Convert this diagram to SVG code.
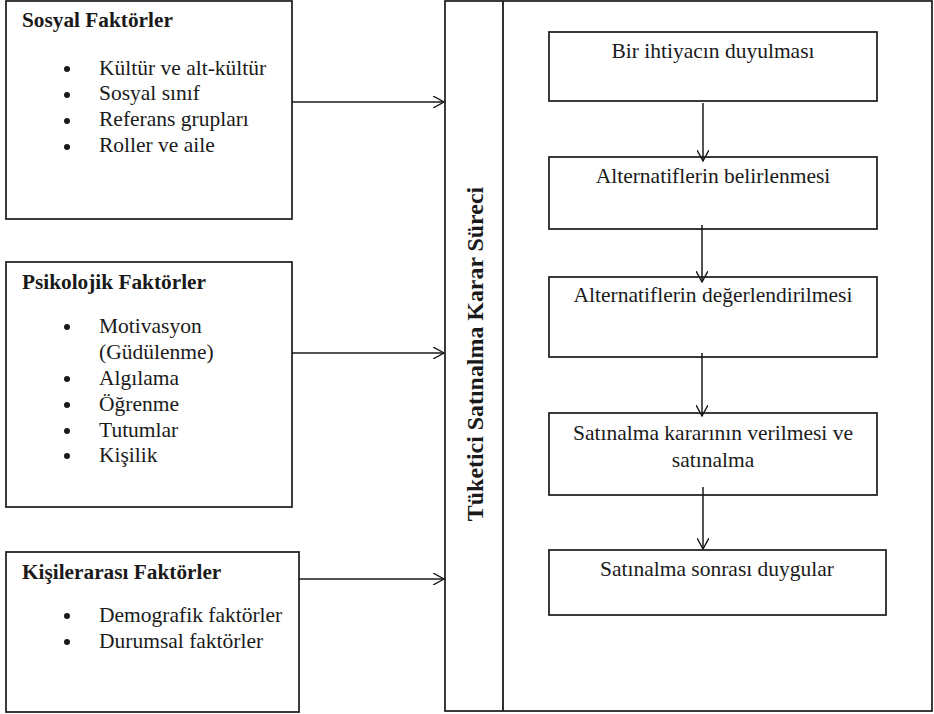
<svg xmlns="http://www.w3.org/2000/svg" width="934" height="714" viewBox="0 0 934 714" font-family="'Liberation Serif', serif">
<style>
.box{fill:#fff;stroke:#262626;stroke-width:1.8}
.t{font-family:'Liberation Serif',serif;font-size:21.5px;fill:#1a1a1a}
.b{font-weight:bold;font-size:21.3px}
.c{text-anchor:middle}
.ln{fill:none;stroke:#1a1a1a;stroke-width:1.5}
.dot{fill:#1a1a1a}
</style>
<defs>
<marker id="ah" viewBox="0 0 12 12" refX="11" refY="6" markerWidth="12" markerHeight="12" markerUnits="userSpaceOnUse" orient="auto">
<path d="M0,0 L11,6 L0,12" fill="none" stroke="#1a1a1a" stroke-width="1.4"/>
</marker>
</defs>
<rect width="934" height="714" fill="#fff"/>
<g id="sosyal">
<rect class="box" x="6" y="1" width="286" height="218"/>
<text class="t b" x="22" y="27">Sosyal Faktörler</text>
<circle class="dot" cx="67" cy="69" r="3"/>
<circle class="dot" cx="67" cy="95" r="3"/>
<circle class="dot" cx="67" cy="121" r="3"/>
<circle class="dot" cx="67" cy="147" r="3"/>
<text class="t" x="99" y="75">Kültür ve alt-kültür</text>
<text class="t" x="99" y="100">Sosyal sınıf</text>
<text class="t" x="99" y="126">Referans grupları</text>
<text class="t" x="99" y="152">Roller ve aile</text>
</g>
<g id="psikolojik">
<rect class="box" x="6" y="262" width="286" height="245"/>
<text class="t b" x="22" y="289">Psikolojik Faktörler</text>
<circle class="dot" cx="67" cy="327" r="3"/>
<circle class="dot" cx="67" cy="379" r="3"/>
<circle class="dot" cx="67" cy="405" r="3"/>
<circle class="dot" cx="67" cy="431" r="3"/>
<circle class="dot" cx="67" cy="456" r="3"/>
<text class="t" x="99" y="333">Motivasyon</text>
<text class="t" x="99" y="359">(Güdülenme)</text>
<text class="t" x="99" y="385">Algılama</text>
<text class="t" x="99" y="411">Öğrenme</text>
<text class="t" x="99" y="437">Tutumlar</text>
<text class="t" x="99" y="462">Kişilik</text>
</g>
<g id="kisilerarasi">
<rect class="box" x="6" y="552" width="293" height="160"/>
<text class="t b" x="22" y="579">Kişilerarası Faktörler</text>
<circle class="dot" cx="67" cy="616" r="3"/>
<circle class="dot" cx="67" cy="642" r="3"/>
<text class="t" x="99" y="622">Demografik faktörler</text>
<text class="t" x="99" y="648">Durumsal faktörler</text>
</g>
<g id="surec">
<rect class="box" x="445" y="1" width="487" height="710"/>
<line class="ln" x1="503" y1="1" x2="503" y2="711" style="stroke-width:1.8"/>
<text class="t b c" transform="translate(483,354) rotate(-90)" style="font-size:23.9px">Tüketici Satınalma Karar Süreci</text>
</g>
<g id="adim1">
<rect class="box" x="549" y="32" width="328" height="69"/>
<text class="t c" x="713" y="58">Bir ihtiyacın duyulması</text>
</g>
<g id="adim2">
<rect class="box" x="549" y="157" width="328" height="72"/>
<text class="t c" x="713" y="183">Alternatiflerin belirlenmesi</text>
</g>
<g id="adim3">
<rect class="box" x="549" y="277" width="328" height="80"/>
<text class="t c" x="713" y="302">Alternatiflerin değerlendirilmesi</text>
</g>
<g id="adim4">
<rect class="box" x="549" y="413" width="328" height="82"/>
<text class="t c" x="713" y="440">Satınalma kararının verilmesi ve</text>
<text class="t c" x="713" y="467">satınalma</text>
</g>
<g id="adim5">
<rect class="box" x="549" y="550" width="337" height="65"/>
<text class="t c" x="717" y="576">Satınalma sonrası duygular</text>
</g>
<g id="connectors">
<line class="ln" x1="292" y1="102" x2="444" y2="102" marker-end="url(#ah)"/>
<line class="ln" x1="292" y1="353" x2="444" y2="353" marker-end="url(#ah)"/>
<line class="ln" x1="299" y1="579" x2="444" y2="579" marker-end="url(#ah)"/>
<line class="ln" x1="703" y1="103" x2="703" y2="161" marker-end="url(#ah)"/>
<line class="ln" x1="702" y1="225" x2="702" y2="282" marker-end="url(#ah)"/>
<line class="ln" x1="702" y1="353" x2="702" y2="416" marker-end="url(#ah)"/>
<line class="ln" x1="703" y1="487" x2="703" y2="549" marker-end="url(#ah)"/>
</g>
</svg>
